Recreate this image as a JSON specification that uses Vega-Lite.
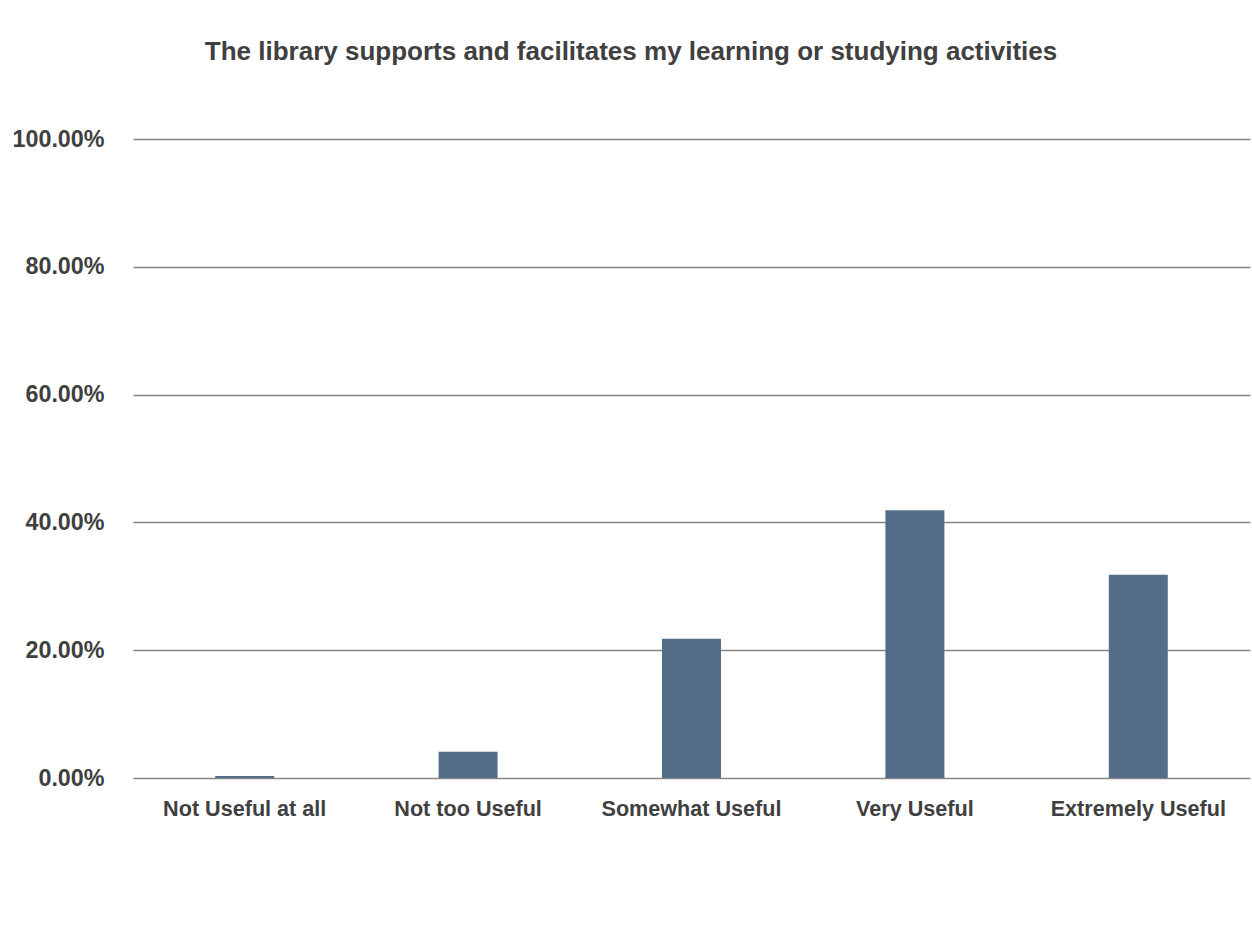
{
  "$schema": "https://vega.github.io/schema/vega-lite/v6.json",
  "width": 1117,
  "height": 639,
  "autosize": {"type": "none"},
  "padding": {"left": 133, "top": 139, "right": 2, "bottom": 163},
  "background": "white",
  "title": {
    "text": "The library supports and facilitates my learning or studying activities",
    "font": "Liberation Sans, Arial, sans-serif",
    "fontSize": 26,
    "fontWeight": "bold",
    "color": "#404040",
    "anchor": "middle",
    "frame": "bounds",
    "baseline": "alphabetic",
    "offset": 41
  },
  "data": {
    "values": [
      {"response": "Not Useful at all", "share": 0.003},
      {"response": "Not too Useful", "share": 0.041},
      {"response": "Somewhat Useful", "share": 0.218},
      {"response": "Very Useful", "share": 0.419},
      {"response": "Extremely Useful", "share": 0.318}
    ]
  },
  "mark": {"type": "bar", "color": "#546e8a"},
  "encoding": {
    "x": {
      "field": "response",
      "type": "nominal",
      "sort": null,
      "scale": {"paddingInner": 0.736, "paddingOuter": 0.368},
      "axis": {
        "title": null,
        "labelAngle": 0,
        "domain": false,
        "ticks": false,
        "labelFont": "Liberation Sans, Arial, sans-serif",
        "labelFontSize": 21.6,
        "labelFontWeight": "bold",
        "labelColor": "#404040",
        "labelPadding": 20,
        "labelBaseline": "top"
      }
    },
    "y": {
      "field": "share",
      "type": "quantitative",
      "scale": {"domain": [0, 1], "nice": false},
      "axis": {
        "title": null,
        "values": [0, 0.2, 0.4, 0.6, 0.8, 1],
        "format": ".2%",
        "domain": false,
        "ticks": false,
        "grid": true,
        "gridColor": "#868686",
        "gridWidth": 1.5,
        "labelFont": "Liberation Sans, Arial, sans-serif",
        "labelFontSize": 23.3,
        "labelFontWeight": "bold",
        "labelColor": "#404040",
        "labelPadding": 29
      }
    }
  },
  "config": {
    "view": {"stroke": null}
  }
}
